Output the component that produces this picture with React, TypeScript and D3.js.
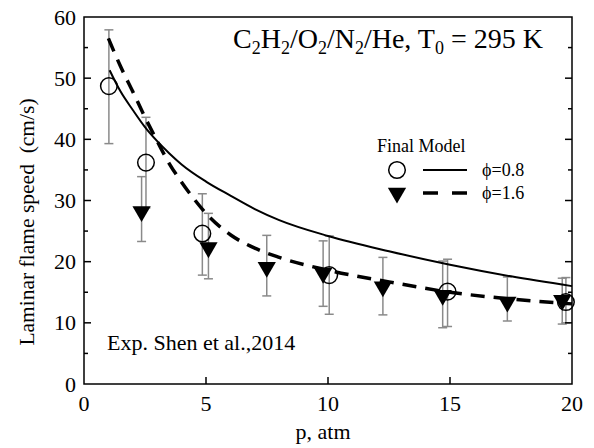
import React from "react";
import * as d3 from "d3";

// Experimental data (Shen et al., 2014)
const circP = [1.02, 2.54, 4.85, 10.05, 14.9, 19.75];
const circS = [48.7, 36.2, 24.6, 17.8, 15.1, 13.4];
const circLo = [39.3, 28.8, 17.8, 11.4, 9.4, 10.0];
const circHi = [57.9, 43.6, 31.1, 24.2, 20.4, 17.4];

const triP = [2.36, 5.1, 7.49, 9.8, 12.25, 14.7, 17.35, 19.6];
const triS = [28.2, 22.3, 19.1, 18.1, 15.9, 14.5, 13.4, 13.7];
const triLo = [23.3, 17.2, 14.4, 12.7, 11.3, 9.2, 10.3, 9.8];
const triHi = [33.9, 27.9, 24.3, 23.4, 20.7, 20.1, 17.5, 17.3];

// Final model curves
const solidP = [1.05, 1.5, 2, 2.5, 3, 3.5, 4, 5, 6, 7, 8, 10, 12.5, 15, 17.5, 20];
const solidS = [51.3, 47.8, 44.8, 42.0, 39.7, 37.7, 35.9, 33.1, 30.8, 28.6, 26.8, 24.2, 21.7, 19.5, 17.6, 16.0];
const dashP = [1.0, 1.5, 2, 2.5, 3, 3.5, 4, 4.5, 5, 6, 7, 8, 10, 12.5, 15, 17.5, 20];
const dashS = [56.5, 51.9, 47.8, 43.6, 39.7, 36.0, 33.0, 30.3, 27.9, 24.4, 22.2, 20.7, 18.6, 16.7, 15.0, 13.9, 13.1];

const xTicks = [0, 5, 10, 15, 20];
const yTicks = [0, 10, 20, 30, 40, 50, 60];
const yMinor = [5, 15, 25, 35, 45, 55];

const FONT = "'Liberation Serif', 'Times New Roman', serif";

export default function App() {
  const W = 594, H = 448;
  const x = d3.scaleLinear().domain([0, 20]).range([84, 572]);
  const y = d3.scaleLinear().domain([0, 60]).range([384, 17]);
  const line = d3.line<[number, number]>().x(d => x(d[0])).y(d => y(d[1])).curve(d3.curveMonotoneX);
  const solid = line(solidP.map((p, i) => [p, solidS[i]]))!;
  const dash = line(dashP.map((p, i) => [p, dashS[i]]))!;
  const tri = d3.symbol().type(d3.symbolTriangle).size(145)()!;
  const grey = "#8a8a8a";
  const cap = 4.5;

  const errBar = (p: number, lo: number, hi: number, k: string) => (
    <g key={k} stroke={grey} strokeWidth={1.5}>
      <line x1={x(p)} x2={x(p)} y1={y(lo)} y2={y(hi)} />
      <line x1={x(p) - cap} x2={x(p) + cap} y1={y(lo)} y2={y(lo)} />
      <line x1={x(p) - cap} x2={x(p) + cap} y1={y(hi)} y2={y(hi)} />
    </g>
  );

  const [x0, x1] = x.range();
  const [y0, y1] = y.range();

  return (
    <svg width={W} height={H} style={{ position: "absolute", left: 0, top: 0, background: "#fff" }} fontFamily={FONT}>
      <rect x={0} y={0} width={W} height={H} fill="#fff" />
      {/* error bars */}
      {circP.map((p, i) => errBar(p, circLo[i], circHi[i], "c" + i))}
      {triP.map((p, i) => errBar(p, triLo[i], triHi[i], "t" + i))}
      {/* model curves */}
      <path d={solid} fill="none" stroke="#000" strokeWidth={2} />
      <path d={dash} fill="none" stroke="#000" strokeWidth={3.5} strokeDasharray="14 9" />
      {/* markers */}
      {circP.map((p, i) => (
        <circle key={"cm" + i} cx={x(p)} cy={y(circS[i])} r={8.3} fill="none" stroke="#000" strokeWidth={1.5} />
      ))}
      {triP.map((p, i) => (
        <path key={"tm" + i} d={tri} transform={`translate(${x(p)},${y(triS[i])}) rotate(180)`} fill="#000" />
      ))}
      {/* frame */}
      <rect x={x0} y={y1} width={x1 - x0} height={y0 - y1} fill="none" stroke="#000" strokeWidth={1.5} />
      {/* x ticks */}
      {xTicks.map(t => (
        <g key={"xt" + t}>
          {t > 0 && t < 20 && <line x1={x(t)} x2={x(t)} y1={y0} y2={y0 - 7} stroke="#000" strokeWidth={1.5} />}
          <text x={x(t)} y={411} fontSize={22} textAnchor="middle">{t}</text>
        </g>
      ))}
      {/* y ticks */}
      {yTicks.map(t => (
        <g key={"yt" + t}>
          {t > 0 && t < 60 && <line x1={x0} x2={x0 + 7} y1={y(t)} y2={y(t)} stroke="#000" strokeWidth={1.5} />}
          {t > 0 && t < 60 && <line x1={x1} x2={x1 - 7} y1={y(t)} y2={y(t)} stroke="#000" strokeWidth={1.5} />}
          <text x={76} y={y(t) + 7.5} fontSize={22} textAnchor="end">{t}</text>
        </g>
      ))}
      {yMinor.map(t => (
        <g key={"ym" + t}>
          <line x1={x0} x2={x0 + 4} y1={y(t)} y2={y(t)} stroke="#000" strokeWidth={1.5} />
          <line x1={x1} x2={x1 - 4} y1={y(t)} y2={y(t)} stroke="#000" strokeWidth={1.5} />
        </g>
      ))}
      {/* axis labels */}
      <text x={323} y={439} fontSize={22} textAnchor="middle">p, atm</text>
      <text transform={`translate(34,222) rotate(-90)`} fontSize={21.5} textAnchor="middle" style={{ whiteSpace: "pre" }}>
        {"Laminar flame speed  (cm/s)"}
      </text>
      {/* title */}
      <text x={233} y={48} fontSize={28}>
        C<tspan fontSize={18} dy={6}>2</tspan>
        <tspan dy={-6}>H</tspan><tspan fontSize={18} dy={6}>2</tspan>
        <tspan dy={-6}>/O</tspan><tspan fontSize={18} dy={6}>2</tspan>
        <tspan dy={-6}>/N</tspan><tspan fontSize={18} dy={6}>2</tspan>
        <tspan dy={-6}>/He, T</tspan><tspan fontSize={18} dy={6}>0</tspan>
        <tspan dy={-6}> = 295 K</tspan>
      </text>
      {/* legend */}
      <text x={377} y={152} fontSize={18}>Final Model</text>
      <circle cx={397} cy={170} r={8.3} fill="none" stroke="#000" strokeWidth={1.5} />
      <line x1={423} x2={467} y1={170} y2={170} stroke="#000" strokeWidth={2} />
      <text x={482} y={176} fontSize={18}>ϕ=0.8</text>
      <path d={tri} transform={`translate(397,193) rotate(180)`} fill="#000" />
      <line x1={423} x2={467} y1={193} y2={193} stroke="#000" strokeWidth={3.5} strokeDasharray="15 14" />
      <text x={482} y={199} fontSize={18}>ϕ=1.6</text>
      {/* exp label */}
      <text x={107} y={350} fontSize={22}>Exp. Shen et al.,2014</text>
    </svg>
  );
}
